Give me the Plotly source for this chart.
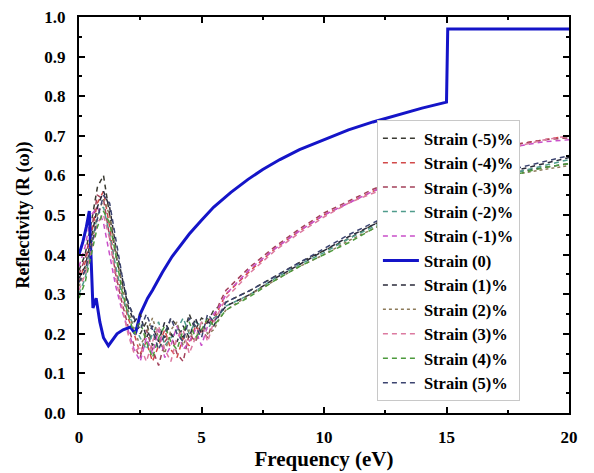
import plotly.graph_objects as go

# Photon energy grid shared by the strained spectra (eV)
freq = [0, 0.25, 0.5, 0.75, 1.0, 1.25, 1.5, 1.75, 2.0, 2.25, 2.5, 2.75, 3.0, 3.25,
        3.5, 3.75, 4.0, 4.25, 4.5, 4.75, 5.0, 5.25, 5.5, 5.75, 6, 7, 8, 9, 10, 11,
        12, 13, 14, 15, 16, 17, 18, 19, 20]

# Reflectivity for each strain value
r_m5 = [0.36, 0.40, 0.48, 0.57, 0.60, 0.50, 0.40, 0.33, 0.28, 0.24, 0.20, 0.23, 0.17, 0.21,
        0.19, 0.24, 0.22, 0.19, 0.25, 0.21, 0.24, 0.23, 0.26, 0.27, 0.28, 0.31, 0.345, 0.38,
        0.41, 0.44, 0.475, 0.505, 0.535, 0.56, 0.58, 0.60, 0.61, 0.62, 0.63]
r_m4 = [0.33, 0.38, 0.45, 0.53, 0.56, 0.47, 0.36, 0.30, 0.24, 0.20, 0.15, 0.18, 0.13, 0.17,
        0.21, 0.16, 0.14, 0.19, 0.17, 0.22, 0.20, 0.24, 0.23, 0.27, 0.30, 0.36, 0.415, 0.46,
        0.50, 0.53, 0.56, 0.585, 0.61, 0.63, 0.65, 0.665, 0.68, 0.69, 0.70]
r_m3 = [0.35, 0.39, 0.46, 0.55, 0.54, 0.44, 0.35, 0.28, 0.22, 0.17, 0.14, 0.21, 0.16, 0.12,
        0.18, 0.20, 0.15, 0.13, 0.20, 0.18, 0.21, 0.19, 0.24, 0.28, 0.31, 0.37, 0.42, 0.465,
        0.505, 0.535, 0.565, 0.59, 0.615, 0.635, 0.655, 0.67, 0.68, 0.69, 0.695]
r_m2 = [0.30, 0.34, 0.42, 0.50, 0.52, 0.45, 0.37, 0.30, 0.25, 0.22, 0.19, 0.16, 0.20, 0.23,
        0.17, 0.19, 0.21, 0.24, 0.20, 0.23, 0.22, 0.21, 0.24, 0.25, 0.27, 0.30, 0.34, 0.375,
        0.405, 0.44, 0.47, 0.50, 0.53, 0.555, 0.575, 0.595, 0.61, 0.625, 0.64]
r_m1 = [0.37, 0.42, 0.50, 0.52, 0.48, 0.40, 0.32, 0.26, 0.21, 0.16, 0.13, 0.19, 0.15, 0.21,
        0.14, 0.17, 0.22, 0.16, 0.18, 0.21, 0.17, 0.22, 0.25, 0.27, 0.30, 0.365, 0.415, 0.46,
        0.50, 0.53, 0.56, 0.585, 0.61, 0.63, 0.65, 0.665, 0.675, 0.685, 0.69]
r_p1 = [0.34, 0.37, 0.44, 0.52, 0.56, 0.52, 0.42, 0.34, 0.27, 0.23, 0.25, 0.19, 0.22, 0.18,
        0.23, 0.20, 0.18, 0.22, 0.19, 0.24, 0.20, 0.23, 0.22, 0.25, 0.27, 0.30, 0.34, 0.375,
        0.41, 0.445, 0.475, 0.505, 0.535, 0.56, 0.58, 0.60, 0.615, 0.63, 0.645]
r_p2 = [0.32, 0.36, 0.43, 0.50, 0.54, 0.50, 0.41, 0.32, 0.26, 0.21, 0.17, 0.20, 0.24, 0.19,
        0.15, 0.21, 0.23, 0.17, 0.21, 0.18, 0.23, 0.20, 0.21, 0.24, 0.26, 0.30, 0.335, 0.37,
        0.40, 0.435, 0.465, 0.495, 0.525, 0.55, 0.57, 0.59, 0.605, 0.615, 0.625]
r_p3 = [0.31, 0.35, 0.41, 0.48, 0.50, 0.44, 0.34, 0.27, 0.20, 0.15, 0.17, 0.13, 0.18, 0.22,
        0.16, 0.13, 0.19, 0.21, 0.15, 0.19, 0.23, 0.18, 0.23, 0.26, 0.29, 0.355, 0.41, 0.455,
        0.495, 0.53, 0.555, 0.58, 0.605, 0.625, 0.645, 0.66, 0.675, 0.69, 0.70]
r_p4 = [0.29, 0.33, 0.40, 0.47, 0.51, 0.48, 0.40, 0.31, 0.25, 0.20, 0.23, 0.18, 0.14, 0.19,
        0.22, 0.18, 0.16, 0.21, 0.23, 0.19, 0.21, 0.24, 0.22, 0.24, 0.26, 0.295, 0.335, 0.37,
        0.40, 0.43, 0.465, 0.495, 0.525, 0.55, 0.575, 0.59, 0.605, 0.62, 0.63]
r_p5 = [0.33, 0.36, 0.42, 0.49, 0.55, 0.53, 0.44, 0.35, 0.28, 0.24, 0.21, 0.25, 0.21, 0.16,
        0.20, 0.24, 0.20, 0.18, 0.24, 0.22, 0.19, 0.25, 0.23, 0.25, 0.28, 0.31, 0.345, 0.38,
        0.415, 0.45, 0.48, 0.51, 0.54, 0.565, 0.585, 0.605, 0.62, 0.635, 0.65]

# Unstrained spectrum (own energy grid)
freq0 = [0, 0.15, 0.3, 0.42, 0.5, 0.57, 0.7, 0.85, 1.0, 1.2, 1.55, 1.8, 2.1, 2.3, 2.5,
         2.8, 3.0, 3.4, 3.8, 4.1, 4.5, 5.0, 5.5, 6.2, 6.9, 7.5, 8.2, 9, 10, 11, 12, 13,
         14, 15, 15.05, 20]
r_0 = [0.40, 0.43, 0.47, 0.51, 0.38, 0.265, 0.29, 0.23, 0.19, 0.17, 0.20, 0.21, 0.217,
       0.20, 0.25, 0.29, 0.31, 0.355, 0.395, 0.42, 0.452, 0.487, 0.52, 0.557, 0.59, 0.615,
       0.64, 0.665, 0.69, 0.715, 0.735, 0.752, 0.77, 0.785, 0.97, 0.97]

labels = ["Strain (-5)%", "Strain (-4)%", "Strain (-3)%", "Strain (-2)%", "Strain (-1)%",
          "Strain (0)", "Strain (1)%", "Strain (2)%", "Strain (3)%", "Strain (4)%",
          "Strain (5)%"]
series = [r_m5, r_m4, r_m3, r_m2, r_m1, None, r_p1, r_p2, r_p3, r_p4, r_p5]
colors = ["#3a3a32", "#d24a4a", "#a3405a", "#4f9c8c", "#c94fc9", "#1414c8",
          "#2a2a3a", "#8c7a5a", "#dc7aa0", "#4c9a3c", "#3c4470"]
dashes = ["5px,4px"] * 11
dashes[7] = "3px,3px"

fig = go.Figure()
for name, ys, col, dsh in zip(labels, series, colors, dashes):
    if ys is None:
        fig.add_trace(go.Scatter(x=freq0, y=r_0, mode="lines", name=name,
                                 line=dict(color=col, width=3)))
    else:
        fig.add_trace(go.Scatter(x=freq, y=ys, mode="lines", name=name,
                                 line=dict(color=col, width=1.5, dash=dsh)))

serif = "Liberation Serif, Times New Roman, serif"
axis_common = dict(
    showline=True, linecolor="black", linewidth=2, mirror="allticks",
    ticks="inside", ticklen=6, tickwidth=2, tickcolor="black",
    showgrid=False, zeroline=False, automargin=False,
    tickfont=dict(family=serif, size=17, color="black", weight="bold"),
    ticklabelstandoff=8,
)

fig.update_layout(
    width=594, height=473,
    margin=dict(l=79, r=25, t=17, b=60),
    paper_bgcolor="white", plot_bgcolor="white",
    xaxis=dict(range=[0, 20], dtick=5, tick0=0,
               minor=dict(dtick=2.5, ticks="inside", ticklen=3, tickwidth=2, tickcolor="black"),
               title=dict(text="Frequency (eV)", standoff=4,
                          font=dict(family=serif, size=21, color="black", weight="bold")),
               **axis_common),
    yaxis=dict(range=[0, 1], dtick=0.1, tick0=0, tickformat=".1f",
               minor=dict(dtick=0.05, ticks="inside", ticklen=3, tickwidth=2, tickcolor="black"),
               title=dict(text="Reflectivity (R (ω))", standoff=10,
                          font=dict(family=serif, size=18, color="black", weight="bold")),
               **axis_common),
    legend=dict(x=0.608, y=0.74, xanchor="left", yanchor="top",
                bgcolor="white", bordercolor="#c8c8c8", borderwidth=1,
                itemwidth=36,
                font=dict(family=serif, size=16.5, color="black", weight="bold"),
                tracegroupgap=0),
    showlegend=True,
)

fig.write_html("out.html")
